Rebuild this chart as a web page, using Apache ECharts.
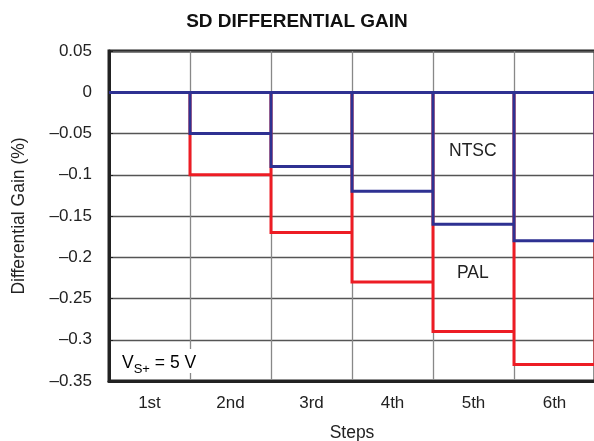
<!DOCTYPE html>
<html>
<head>
<meta charset="utf-8">
<script src="https://cdn.jsdelivr.net/npm/echarts@6/dist/echarts.min.js"></script>
<style>
html,body{margin:0;padding:0;background:#fff;}
#chart{width:594px;height:441px;}
</style>
</head>
<body>
<div id="chart"></div>
<script>
const categories = ['1st', '2nd', '3rd', '4th', '5th', '6th'];
const ntscValues = [0, -0.05, -0.09, -0.12, -0.16, -0.18];
const palValues = [0, -0.10, -0.17, -0.23, -0.29, -0.33];
const yTicks = { min: -0.35, max: 0.05, interval: 0.05 };

const FONT = '"Liberation Sans", Arial, Helvetica, sans-serif';

// Each step drops from the 0 baseline to its value and returns to 0 at the band's end.
// Bands whose value is 0 lie on the baseline, which is drawn by the markLine.
function stepPath(vals) {
  const pts = [];
  vals.forEach(function (v, i) {
    if (v === 0) return;
    pts.push([i, 0]);
    pts.push([i, v]);
    pts.push([i + 1, v]);
    pts.push([i + 1, 0]);
  });
  return pts;
}

function makeSeries(name, vals, color, z, withZero) {
  const s = {
    name: name,
    type: 'line',
    xAxisIndex: 0,
    z: z,
    data: stepPath(vals),
    symbol: 'none',
    showSymbol: false,
    smooth: false,
    lineStyle: { color: color, width: 3, join: 'miter' }
  };
  if (withZero) {
    s.markLine = {
      silent: true,
      symbol: 'none',
      z: z + 1,
      label: { show: false },
      lineStyle: { color: color, width: 3, type: 'solid' },
      data: [{ yAxis: 0 }]
    };
  }
  return s;
}

const chart = echarts.init(document.getElementById('chart'));
chart.setOption({
  animation: false,
  backgroundColor: '#fff',
  title: {
    text: 'SD DIFFERENTIAL GAIN',
    left: 'center',
    top: 7,
    textStyle: { fontFamily: FONT, fontSize: 19, fontWeight: 'bold', color: '#111' }
  },
  grid: {
    left: 109, top: 51, width: 486, bottom: 60,
    containLabel: false, outerBoundsMode: 'none',
    show: true, borderColor: '#222', borderWidth: 3, backgroundColor: 'transparent'
  },
  xAxis: [
    {
      type: 'value', min: 0, max: categories.length, interval: 1,
      position: 'bottom',
      axisLine: { show: true, onZero: false, lineStyle: { color: '#222', width: 3 } },
      axisTick: { show: false },
      axisLabel: { show: false },
      splitLine: { show: true, lineStyle: { color: '#888', width: 1.3 } }
    },
    {
      type: 'category', data: categories, boundaryGap: true,
      position: 'bottom',
      axisLine: { show: false }, axisTick: { show: false },
      splitLine: { show: false },
      axisLabel: { fontFamily: FONT, fontSize: 17, color: '#222', margin: 14 },
      name: 'Steps', nameLocation: 'middle', nameGap: 43,
      nameTextStyle: { fontFamily: FONT, fontSize: 17.5, color: '#222' }
    }
  ],
  yAxis: {
    type: 'value', min: yTicks.min, max: yTicks.max, interval: yTicks.interval,
    axisLine: { show: true, onZero: false, lineStyle: { color: '#222', width: 3 } },
    axisTick: { show: true, inside: true, length: 4, lineStyle: { color: '#222', width: 1 } },
    axisLabel: {
      fontFamily: FONT, fontSize: 17, color: '#222', margin: 17,
      formatter: function (v) {
        const r = Math.round(v * 100) / 100;
        return String(r).replace('-', '\u2013');
      }
    },
    splitLine: { show: true, lineStyle: { color: '#555', width: 1.3 } },
    name: 'Differential Gain (%)', nameLocation: 'middle', nameGap: 81,
    nameTextStyle: { fontFamily: FONT, fontSize: 17.5, color: '#222' }
  },
  series: [
    makeSeries('PAL', palValues, '#ed1c24', 2, false),
    makeSeries('NTSC', ntscValues, '#2e3192', 10, true)
  ],
  graphic: [
    { type: 'text', left: 474 - 25, top: 142, style: { text: 'NTSC', font: '17.5px ' + FONT, fill: '#222' } },
    { type: 'text', left: 474 - 17, top: 264, style: { text: 'PAL', font: '17.5px ' + FONT, fill: '#222' } },
    {
      type: 'text', left: 120, top: 349, z: 20,
      style: {
        text: '{a|V}{s|S+}{a| = 5 V}',
        backgroundColor: '#fff',
        padding: [1, 2, 1, 2],
        rich: {
          a: { fontFamily: FONT, fontSize: 17.5, color: '#222', lineHeight: 22, verticalAlign: 'bottom' },
          s: { fontFamily: FONT, fontSize: 13, color: '#222', lineHeight: 22, verticalAlign: 'bottom', padding: [0, 0, -4, 0] }
        }
      }
    }
  ]
});
</script>
</body>
</html>
